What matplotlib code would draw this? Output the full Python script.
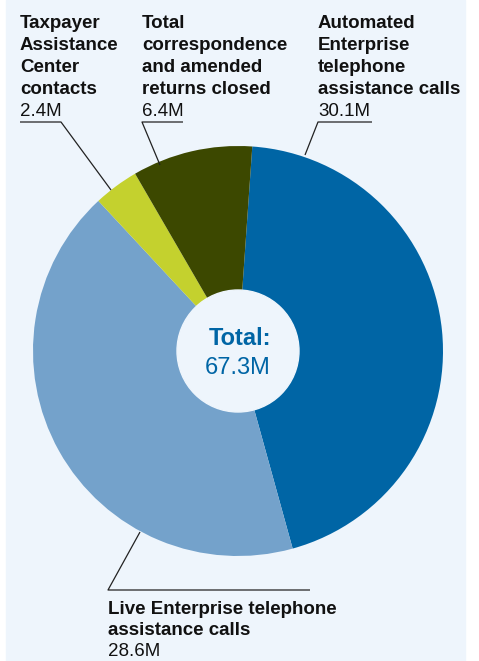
import matplotlib.pyplot as plt
from matplotlib.patches import Rectangle, Circle

# contact volumes, in millions, clockwise from the top
categories = ['Automated Enterprise telephone assistance calls',
              'Live Enterprise telephone assistance calls',
              'Taxpayer Assistance Center contacts',
              'Total correspondence and amended returns closed']
values = [30.1, 28.6, 2.4, 6.4]
total_m = 67.3

colors = ['#0065a5', '#74a2cb', '#c4d12e', '#3c4800']
bg = '#eef5fc'

plt.rcParams['font.family'] = ['Liberation Sans', 'DejaVu Sans']

W, H = 479, 661
fig = plt.figure(figsize=(W / 100, H / 100), dpi=100)
ax = fig.add_axes([0, 0, 1, 1])

def py(y):
    # pixel row (from top) -> data y
    return H - y

ax.add_patch(Rectangle((6, 0), 459, H, color=bg, zorder=0))

cx, cy, r = 238, py(351), 205
ax.pie(values, colors=colors, startangle=86, counterclock=False,
       center=(cx, cy), radius=r, wedgeprops=dict(linewidth=0))
ax.add_patch(Circle((cx, cy), 61, color=bg, zorder=5))

ax.text(cx + 2, py(345), 'Total:', ha='center', va='baseline', fontsize=17,
        fontweight='bold', color='#0065a5', zorder=6)
ax.text(cx, py(374), f'{total_m}M', ha='center', va='baseline', fontsize=17,
        color='#0065a5', zorder=6)


def label(x, base, lines, value, step=22):
    for i, line in enumerate(lines):
        ax.text(x, py(base + i * step), line, fontsize=13.5, fontweight='bold',
                va='baseline', ha='left', color='#111111')
    ax.text(x, py(base + len(lines) * step), f'{value}M', fontsize=13.5,
            va='baseline', ha='left', color='#111111')


def leader(pts):
    xs = [p[0] for p in pts]
    ys = [py(p[1]) for p in pts]
    ax.plot(xs, ys, color='#222222', lw=0.9, solid_capstyle='butt')


label(20, 28, ['Taxpayer', 'Assistance', 'Center', 'contacts'], values[2])
leader([(20, 122), (61, 122), (111, 190)])

label(142, 28, ['Total', 'correspondence', 'and amended', 'returns closed'], values[3])
leader([(183, 122), (142, 122), (160, 165)])

label(318, 28, ['Automated', 'Enterprise', 'telephone', 'assistance calls'], values[0])
leader([(372, 122), (318, 122), (305, 155)])

label(108, 614, ['Live Enterprise telephone', 'assistance calls'], values[1], step=21)
leader([(140, 532), (108, 590), (310, 590)])

ax.set_xlim(0, W)
ax.set_ylim(0, H)
ax.set_aspect('auto')
ax.axis('off')

fig.savefig('out.png', dpi=100, facecolor='white')
